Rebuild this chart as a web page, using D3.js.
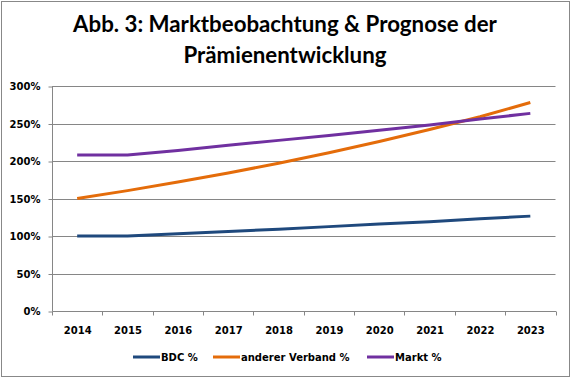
<!DOCTYPE html>
<html><head><meta charset="utf-8">
<script src="https://cdn.jsdelivr.net/npm/d3@7/dist/d3.min.js"></script>
<style>body{margin:0;background:#fff}svg{display:block}</style>
</head><body>
<script>
const years = ["2014","2015","2016","2017","2018","2019","2020","2021","2022","2023"];
const bdc = [100,100,103,106,109,112.5,116,119,123,126.5];
const andererVerband = [150,160.5,172,184,197,211,226,242,259,278];
const markt = [208,208,214,221,227.5,234,241,248,256,263.5];
const seriesNames = ["BDC %","anderer Verband %","Markt %"];
const seriesColors = ["#1F497D","#E46C0A","#7030A0"];
const yTicks = [0,50,100,150,200,250,300];
const titleLines = ["Abb. 3: Marktbeobachtung & Prognose der","Prämienentwicklung"];

(function(){
const W=572,H=379;
const svg=d3.select("body").append("svg").attr("width",W).attr("height",H);
svg.append("rect").attr("x",1.5).attr("y",1.5).attr("width",W-4).attr("height",H-4)
  .attr("fill","#fff").attr("stroke","#888").attr("stroke-width",1);

// title
const tf="Lato, 'Open Sans', sans-serif";
const t1=svg.append("text").attr("x",285).attr("y",32).attr("text-anchor","middle")
  .attr("font-family",tf).attr("font-weight","bold").attr("font-size",20).attr("fill","#000").text(titleLines[0]);
const w=t1.node().getComputedTextLength();
const fs=20*424/w;
t1.attr("font-size",fs);
svg.append("text").attr("x",285).attr("y",63).attr("text-anchor","middle")
  .attr("font-family",tf).attr("font-weight","bold").attr("font-size",fs).attr("fill","#000").text(titleLines[1]);

const pl=52,pr=555.5,pt=86,pb=311;
const x=d3.scaleBand().domain(years).range([pl,pr]);
const y=d3.scaleLinear().domain([0,300]).range([pb,pt]);
const grid="#868686";
const lf="'DejaVu Sans', Verdana, sans-serif";

// gridlines
svg.append("g").selectAll("line").data(yTicks.filter(d=>d>0)).join("line")
  .attr("x1",pl).attr("x2",pr).attr("y1",d=>Math.round(y(d))+0.5).attr("y2",d=>Math.round(y(d))+0.5)
  .attr("stroke",grid).attr("stroke-width",1);

// y axis
const ya=svg.append("g").attr("transform",`translate(${pl+0.5},0.5)`)
  .call(d3.axisLeft(y).tickValues(yTicks).tickFormat(d=>d+"%").tickSize(4).tickPadding(8));
ya.selectAll("path,line").attr("stroke",grid);
ya.selectAll("text").attr("font-family",lf).attr("font-weight","bold").attr("font-size",10).attr("fill","#000");
ya.select(".domain").attr("d",`M0,${y(300)}V${y(0)}`);

// x axis
const xa=svg.append("g").attr("transform",`translate(0.5,${pb+0.5})`)
  .call(d3.axisBottom(x).tickSize(0).tickPadding(15));
xa.select(".domain").attr("stroke",grid).attr("d",`M${pl},0H${pr}`);
xa.selectAll("text").attr("font-family",lf).attr("font-weight","bold").attr("font-size",10).attr("fill","#000");
const bounds=years.map(d=>x(d)).concat([pr]);
xa.append("g").selectAll("line").data(bounds).join("line")
  .attr("x1",d=>Math.round(d)).attr("x2",d=>Math.round(d)).attr("y1",0).attr("y2",4).attr("stroke",grid);

// lines
const all=[bdc,andererVerband,markt];
const line=d3.line().x((d,i)=>x(years[i])+x.bandwidth()/2).y(d=>y(d));
svg.append("g").selectAll("path").data(all).join("path")
  .attr("d",line).attr("fill","none").attr("stroke",(d,i)=>seriesColors[i])
  .attr("stroke-width",3).attr("stroke-linejoin","round");

// legend
const legX=[133,213,367];
const lg=svg.append("g").selectAll("g").data(seriesNames).join("g")
  .attr("transform",(d,i)=>`translate(${legX[i]},357)`);
lg.append("line").attr("x1",0).attr("x2",27).attr("y1",0).attr("y2",0)
  .attr("stroke",(d,i)=>seriesColors[i]).attr("stroke-width",3);
lg.append("text").attr("x",28).attr("y",4).attr("font-family",lf).attr("font-weight","bold")
  .attr("font-size",10).attr("fill","#000").text(d=>d);
})();
</script>
</body></html>
